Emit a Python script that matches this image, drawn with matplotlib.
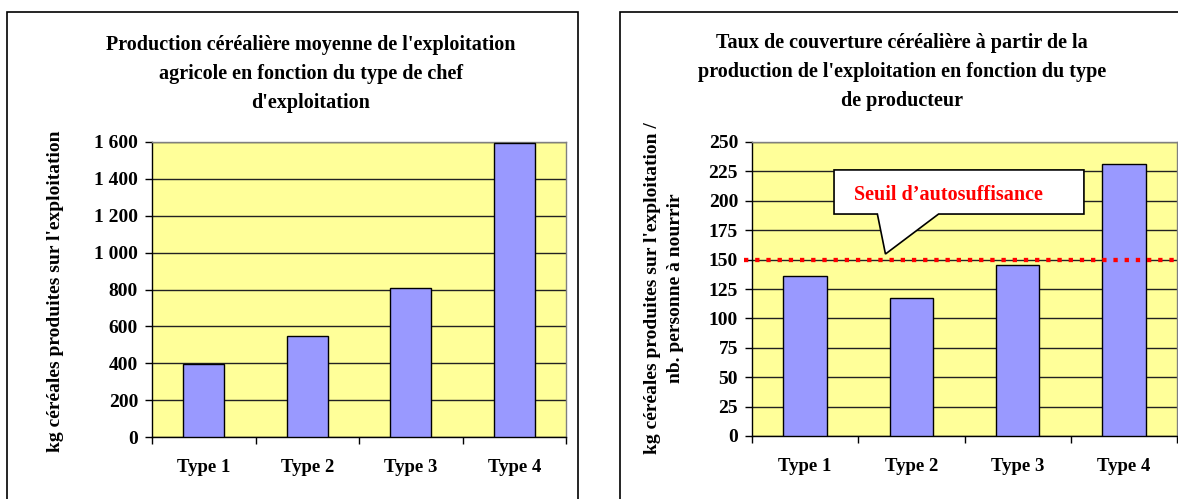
import matplotlib.pyplot as plt
from matplotlib.patches import Rectangle, Polygon
from matplotlib.ticker import FixedLocator, NullFormatter

# data
types = ['Type 1', 'Type 2', 'Type 3', 'Type 4']
production = [395, 548, 808, 1595]       # kg de céréales / exploitation
couverture = [136, 117, 145, 231]        # kg / personne à nourrir
seuil = 150                              # seuil d'autosuffisance

left_ticks = list(range(0, 1601, 200))
right_ticks = list(range(0, 251, 25))

title_left = "Production céréalière moyenne de l'exploitation\nagricole en fonction du type de chef\nd'exploitation"
title_right = "Taux de couverture céréalière à partir de la\nproduction de l'exploitation en fonction du type\nde producteur"
ylab_left = "kg céréales produites sur l'exploitation"
ylab_right = "kg céréales produites sur l'exploitation /\nnb. personne à nourrir"

plt.rcParams['font.family'] = ['Liberation Serif', 'DejaVu Serif']
plt.rcParams['font.weight'] = 'bold'

W, H = 1178, 499
fig = plt.figure(figsize=(W / 100, H / 100), dpi=100)
fig.patch.set_facecolor('white')

BG = '#FFFF99'
BAR = '#9999FF'


def px(x0, y0, x1, y1):
    # pixel box -> figure fraction [left, bottom, width, height]
    return [x0 / W, 1 - y1 / H, (x1 - x0) / W, (y1 - y0) / H]


def style_axes(ax, vals, ticks, ymax, width, fmt):
    ax.set_facecolor(BG)
    x = range(len(vals))
    ax.bar(x, vals, width=width, color=BAR, edgecolor='black', linewidth=1, zorder=3)
    ax.set_xlim(-0.5, len(vals) - 0.5)
    ax.set_ylim(0, ymax)
    ax.set_yticks(ticks)
    ax.set_yticklabels([fmt(t) for t in ticks])
    ax.yaxis.grid(True, color='#222222', linewidth=1, zorder=1)
    ax.set_axisbelow(True)
    ax.xaxis.set_major_locator(FixedLocator([i - 0.5 for i in range(len(vals) + 1)]))
    ax.xaxis.set_major_formatter(NullFormatter())
    ax.xaxis.set_minor_locator(FixedLocator(list(x)))
    ax.set_xticklabels(types, minor=True)
    ax.tick_params(axis='x', which='minor', length=0, pad=16, labelsize=13.5)
    ax.tick_params(axis='x', which='major', length=5, width=1, direction='out')
    ax.tick_params(axis='y', length=5, width=1, direction='out', pad=5, labelsize=14)
    for s in ['top', 'right']:
        ax.spines[s].set_color('#808080')
        ax.spines[s].set_linewidth(1)
    for s in ['left', 'bottom']:
        ax.spines[s].set_color('black')
        ax.spines[s].set_linewidth(1)


def thousands(v):
    return f'{v:,}'.replace(',', ' ')


# panel frames
fig.add_artist(Rectangle((7 / W, -0.1), 571 / W, (H - 12) / H + 0.1,
                         transform=fig.transFigure, fill=False,
                         edgecolor='black', linewidth=1.2))
fig.add_artist(Rectangle((620 / W, -0.1), 0.5, (H - 12) / H + 0.1,
                         transform=fig.transFigure, fill=False,
                         edgecolor='black', linewidth=1.2))

# left chart
ax1 = fig.add_axes(px(152, 142, 566, 437))
style_axes(ax1, production, left_ticks, 1600, 0.4, thousands)
fig.text(311 / W, 1 - 74 / H, title_left, fontsize=14.5, ha='center', va='center',
         linespacing=1.6)
fig.text(56 / W, 1 - 291 / H, ylab_left, fontsize=14, rotation=90,
         ha='center', va='center')

# right chart
ax2 = fig.add_axes(px(752, 142, 1177, 436))
style_axes(ax2, couverture, right_ticks, 250, 0.41, str)
fig.text(902 / W, 1 - 72 / H, title_right, fontsize=14.5, ha='center', va='center',
         linespacing=1.6)
fig.text(664 / W, 1 - 288 / H, ylab_right, fontsize=14, rotation=90,
         ha='center', va='center', linespacing=1.45, multialignment='center')

ax2.axhline(seuil, xmin=-0.02, xmax=1, color='red', linewidth=3.1,
            linestyle=(0, (1, 1.6)), dash_capstyle='butt', clip_on=False, zorder=5)

# callout
callout = [(0.193, 0.905), (0.781, 0.905), (0.781, 0.755), (0.439, 0.755),
           (0.314, 0.619), (0.295, 0.755), (0.193, 0.755)]
ax2.add_patch(Polygon(callout, closed=True, transform=ax2.transAxes,
                      facecolor='white', edgecolor='black', linewidth=1.2, zorder=6))
ax2.text(0.462, 0.82, 'Seuil d’autosuffisance', transform=ax2.transAxes,
         color='red', fontsize=14.5, ha='center', va='center', zorder=7)

fig.savefig('out.png', dpi=100)
